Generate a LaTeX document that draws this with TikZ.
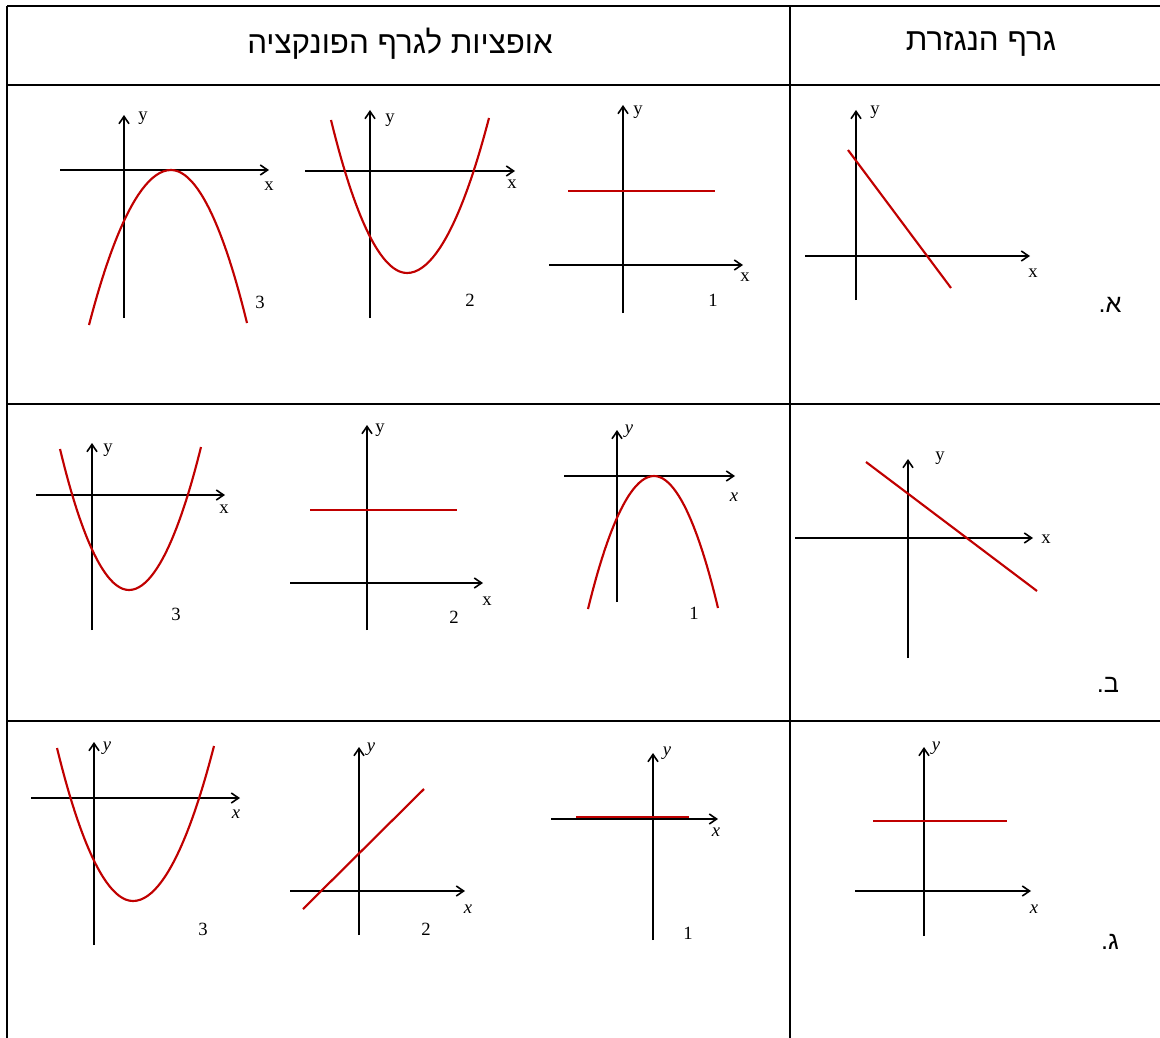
\documentclass[tikz,border=0pt]{standalone}
\usepackage{fontspec}
\usetikzlibrary{arrows.meta}
\TeXXeTstate=1
\newfontfamily\hebfont[Script=Hebrew]{Liberation Sans}
\newfontfamily\lblfont{Liberation Serif}
\definecolor{fnred}{HTML}{C00000}

\begin{document}
\begin{tikzpicture}[
    x=0.75pt, y=-0.75pt,
    grid/.style={line width=1.9pt},
    axis/.style={-{Straight Barb[length=5.5pt,width=7.5pt,line width=1.2pt]},line width=1.5pt},
    curve/.style={draw=fnred,line width=1.6pt},
    lbl/.style={font=\lblfont\fontsize{14}{16}\selectfont,inner sep=0pt},
    ilbl/.style={font=\lblfont\itshape\fontsize{14}{16}\selectfont,inner sep=0pt},
    head/.style={font=\hebfont\fontsize{23.5}{28}\selectfont,inner sep=0pt},
    rowlbl/.style={font=\hebfont\fontsize{19}{23}\selectfont,inner sep=0pt}
]
\useasboundingbox (0,0) rectangle (1160,1038);

% Table lines
\draw[grid] (7,6) -- (1160,6);
\draw[grid] (7,85) -- (1160,85);
\draw[grid] (7,404) -- (1160,404);
\draw[grid] (7,721) -- (1160,721);
\draw[grid] (7,6) -- (7,1038);
\draw[grid] (790,6) -- (790,1038);

% Headers
\node[head] (hopt) at (400,44) {\beginR אופציות לגרף הפונקציה\endR};
\node[head] (hder) at (981,44) {\beginR גרף הנגזרת\endR};

% Row A: derivative
\draw[axis] (856,300) -- (856,110);
\draw[axis] (805,256) -- (1030,256);
\node[lbl] (ady) at (875,112) {y};
\node[lbl] (adx) at (1033,273) {x};
\draw[curve] (848,150) -- (951,288);
\node[rowlbl] (rowa) at (1110,305) {\beginR א.\endR};

% Row A: options
\draw[axis] (623,313) -- (623,105);
\draw[axis] (549,265) -- (743,265);
\node[lbl] (a1y) at (638,112) {y};
\node[lbl] (a1x) at (745,277) {x};
\draw[curve] (568,191) -- (715,191);
\node[lbl] (a1n) at (713,300) {1};

\draw[axis] (370,318) -- (370,110);
\draw[axis] (305,171) -- (515,171);
\node[lbl] (a2y) at (390,120) {y};
\node[lbl] (a2x) at (512,184) {x};
\draw[curve] (331,120) parabola bend (407,273) (489,118);
\node[lbl] (a2n) at (470,300) {2};

\draw[axis] (124,318) -- (124,115);
\draw[axis] (60,170) -- (269,170);
\node[lbl] (a3y) at (143,118) {y};
\node[lbl] (a3x) at (269,186) {x};
\draw[curve] (89,325) parabola bend (171,170) (247,323);
\node[lbl] (a3n) at (260,302) {3};

% Row B: derivative
\draw[axis] (908,658) -- (908,459);
\draw[axis] (795,538) -- (1033,538);
\node[lbl] (bdy) at (940,458) {y};
\node[lbl] (bdx) at (1046,539) {x};
\draw[curve] (866,462) -- (1037,591);
\node[rowlbl] (rowb) at (1108,685) {\beginR ב.\endR};

% Row B: options
\draw[axis] (617,602) -- (617,430);
\draw[axis] (564,476) -- (735,476);
\node[ilbl] (b1y) at (629,431) {y};
\node[ilbl] (b1x) at (734,497) {x};
\draw[curve] (588,609) parabola bend (654,476) (718,608);
\node[lbl] (b1n) at (694,613) {1};

\draw[axis] (367,630) -- (367,425);
\draw[axis] (290,583) -- (483,583);
\node[lbl] (b2y) at (380,430) {y};
\node[lbl] (b2x) at (487,601) {x};
\draw[curve] (310,510) -- (457,510);
\node[lbl] (b2n) at (454,617) {2};

\draw[axis] (92,630) -- (92,443);
\draw[axis] (36,495) -- (225,495);
\node[lbl] (b3y) at (108,450) {y};
\node[lbl] (b3x) at (224,509) {x};
\draw[curve] (60,449) parabola bend (129,590) (201,447);
\node[lbl] (b3n) at (176,614) {3};

% Row C: derivative
\draw[axis] (924,936) -- (924,747);
\draw[axis] (855,891) -- (1031,891);
\node[ilbl] (cdy) at (936,748) {y};
\node[ilbl] (cdx) at (1034,909) {x};
\draw[curve] (873,821) -- (1007,821);
\node[rowlbl] (rowc) at (1110,942) {\beginR ג.\endR};

% Row C: options
\draw[axis] (653,940) -- (653,753);
\draw[axis] (551,819) -- (718,819);
\node[ilbl] (c1y) at (667,753) {y};
\node[ilbl] (c1x) at (716,832) {x};
\draw[curve] (576,817) -- (689,817);
\node[lbl] (c1n) at (688,933) {1};

\draw[axis] (359,935) -- (359,747);
\draw[axis] (290,891) -- (465,891);
\node[ilbl] (c2y) at (371,749) {y};
\node[ilbl] (c2x) at (468,909) {x};
\draw[curve] (303,909) -- (424,789);
\node[lbl] (c2n) at (426,929) {2};

\draw[axis] (94,945) -- (94,742);
\draw[axis] (31,798) -- (240,798);
\node[ilbl] (c3y) at (107,748) {y};
\node[ilbl] (c3x) at (236,814) {x};
\draw[curve] (57,748) parabola bend (133,901) (214,746);
\node[lbl] (c3n) at (203,929) {3};

\end{tikzpicture}
\end{document}
